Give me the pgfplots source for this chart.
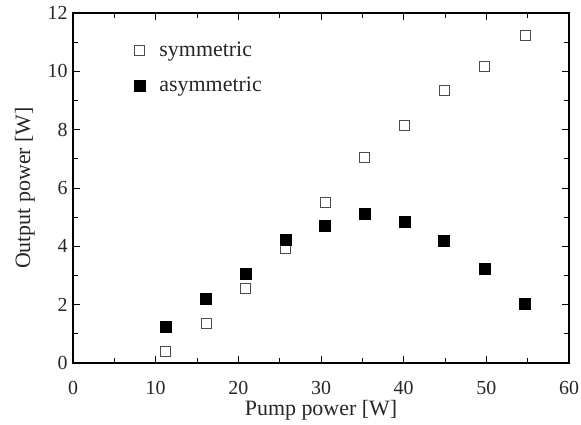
\documentclass[border=0pt]{standalone}
\usepackage{fontspec}
\setmainfont{Liberation Serif}
\usepackage{pgfplots}
\pgfplotsset{compat=1.18}
\begin{document}
\begin{tikzpicture}
\begin{axis}[
  name=a,
  scale only axis,
  width=496bp, height=350bp,
  xmin=0, xmax=60, ymin=0, ymax=12,
  xtick={0,10,...,60}, ytick={0,2,...,12},
  minor xtick={5,15,...,55}, minor ytick={1,3,...,11},
  tick align=inside,
  major tick length=7bp, minor tick length=5bp,
  every tick/.style={black, line width=0.8pt},
  axis line style={line width=1.3pt},
  /pgf/number format/assume math mode=true,
  tick label style={font=\fontsize{20}{22}\selectfont, text=black!85},
  xticklabel style={yshift=-15bp},
  yticklabel style={xshift=-2bp},
  label style={font=\fontsize{22}{24}\selectfont, text=black!85},
  xlabel={Pump power [W]},
  ylabel={Output power [W]},
  xlabel style={yshift=2bp},
  ylabel style={yshift=6bp},
  legend style={draw=none, fill=none, at={(axis cs:7.05,11.14)}, anchor=north west,
    font=\fontsize{22}{24}\selectfont, text=black!85, row sep=15bp,
    /tikz/every odd column/.append style={column sep=12bp}},
  legend cell align=left,
]
\addplot[only marks, mark=square, mark size=5bp, mark options={draw=black!70, line width=1pt}]
coordinates {
(11.2,0.38) (16.1,1.37) (20.9,2.54) (25.7,3.94) (30.5,5.52)
(35.3,7.06) (40.1,8.13) (44.9,9.33) (49.8,10.15) (54.7,11.24)
};
\addlegendentry{symmetric}
\addplot[only marks, mark=square*, mark size=5.5bp, mark options={draw=black, fill=black}]
coordinates {
(11.2,1.23) (16.1,2.22) (20.9,3.05) (25.7,4.22) (30.5,4.70)
(35.3,5.13) (40.1,4.85) (44.9,4.19) (49.8,3.25) (54.7,2.02)
};
\addlegendentry{asymmetric}
\end{axis}
\pgfresetboundingbox
\path ([shift={(-73bp,-61bp)}]a.south west) rectangle ([shift={(12bp,13bp)}]a.north east);
\end{tikzpicture}
\end{document}
